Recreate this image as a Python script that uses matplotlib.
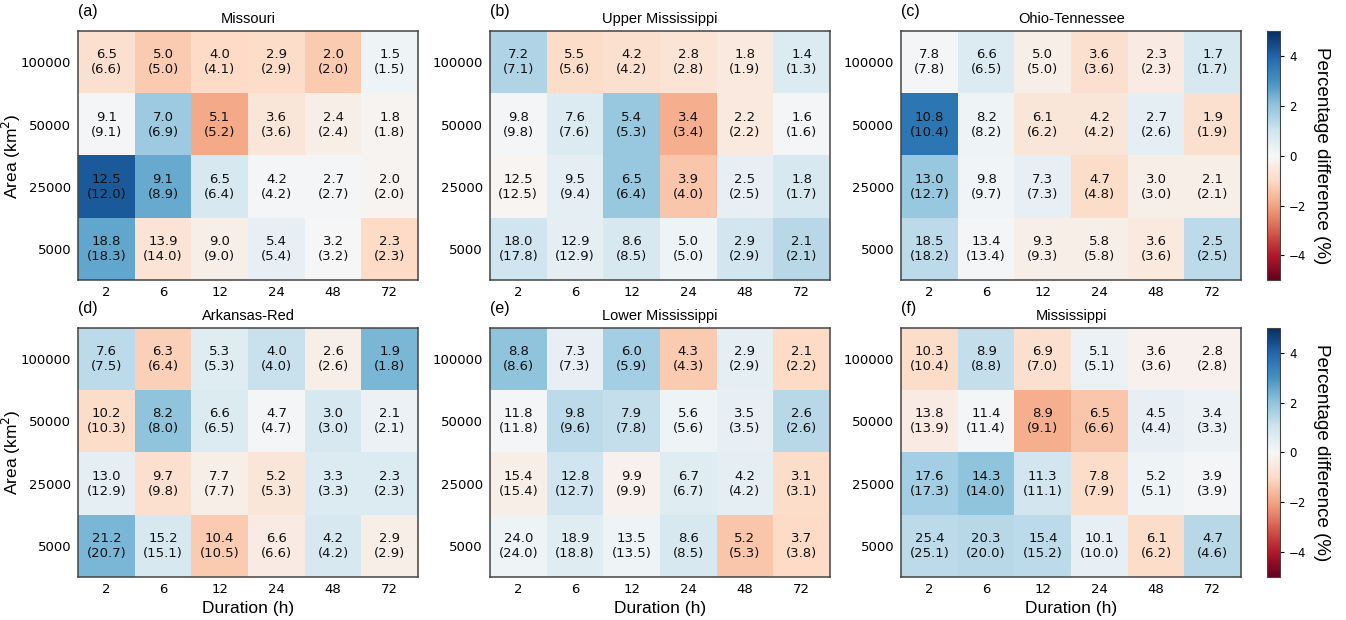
import numpy as np
import matplotlib.pyplot as plt

durations = ['2', '6', '12', '24', '48', '72']
areas = ['100000', '50000', '25000', '5000']
basins = ['Missouri', 'Upper Mississippi', 'Ohio-Tennessee',
          'Arkansas-Red', 'Lower Mississippi', 'Mississippi']
panel_tags = ['(a)', '(b)', '(c)', '(d)', '(e)', '(f)']

# first value in each cell
missouri_main = [[6.5, 5.0, 4.0, 2.9, 2.0, 1.5],
                 [9.1, 7.0, 5.1, 3.6, 2.4, 1.8],
                 [12.5, 9.1, 6.5, 4.2, 2.7, 2.0],
                 [18.8, 13.9, 9.0, 5.4, 3.2, 2.3]]
upper_main = [[7.2, 5.5, 4.2, 2.8, 1.8, 1.4],
              [9.8, 7.6, 5.4, 3.4, 2.2, 1.6],
              [12.5, 9.5, 6.5, 3.9, 2.5, 1.8],
              [18.0, 12.9, 8.6, 5.0, 2.9, 2.1]]
ohio_main = [[7.8, 6.6, 5.0, 3.6, 2.3, 1.7],
             [10.8, 8.2, 6.1, 4.2, 2.7, 1.9],
             [13.0, 9.8, 7.3, 4.7, 3.0, 2.1],
             [18.5, 13.4, 9.3, 5.8, 3.6, 2.5]]
arkansas_main = [[7.6, 6.3, 5.3, 4.0, 2.6, 1.9],
                 [10.2, 8.2, 6.6, 4.7, 3.0, 2.1],
                 [13.0, 9.7, 7.7, 5.2, 3.3, 2.3],
                 [21.2, 15.2, 10.4, 6.6, 4.2, 2.9]]
lower_main = [[8.8, 7.3, 6.0, 4.3, 2.9, 2.1],
              [11.8, 9.8, 7.9, 5.6, 3.5, 2.6],
              [15.4, 12.8, 9.9, 6.7, 4.2, 3.1],
              [24.0, 18.9, 13.5, 8.6, 5.2, 3.7]]
miss_main = [[10.3, 8.9, 6.9, 5.1, 3.6, 2.8],
             [13.8, 11.4, 8.9, 6.5, 4.5, 3.4],
             [17.6, 14.3, 11.3, 7.8, 5.2, 3.9],
             [25.4, 20.3, 15.4, 10.1, 6.1, 4.7]]

# value in brackets
missouri_ref = [[6.6, 5.0, 4.1, 2.9, 2.0, 1.5],
                [9.1, 6.9, 5.2, 3.6, 2.4, 1.8],
                [12.0, 8.9, 6.4, 4.2, 2.7, 2.0],
                [18.3, 14.0, 9.0, 5.4, 3.2, 2.3]]
upper_ref = [[7.1, 5.6, 4.2, 2.8, 1.9, 1.3],
             [9.8, 7.6, 5.3, 3.4, 2.2, 1.6],
             [12.5, 9.4, 6.4, 4.0, 2.5, 1.7],
             [17.8, 12.9, 8.5, 5.0, 2.9, 2.1]]
ohio_ref = [[7.8, 6.5, 5.0, 3.6, 2.3, 1.7],
            [10.4, 8.2, 6.2, 4.2, 2.6, 1.9],
            [12.7, 9.7, 7.3, 4.8, 3.0, 2.1],
            [18.2, 13.4, 9.3, 5.8, 3.6, 2.5]]
arkansas_ref = [[7.5, 6.4, 5.3, 4.0, 2.6, 1.8],
                [10.3, 8.0, 6.5, 4.7, 3.0, 2.1],
                [12.9, 9.8, 7.7, 5.3, 3.3, 2.3],
                [20.7, 15.1, 10.5, 6.6, 4.2, 2.9]]
lower_ref = [[8.6, 7.3, 5.9, 4.3, 2.9, 2.2],
             [11.8, 9.6, 7.8, 5.6, 3.5, 2.6],
             [15.4, 12.7, 9.9, 6.7, 4.2, 3.1],
             [24.0, 18.8, 13.5, 8.5, 5.3, 3.8]]
miss_ref = [[10.4, 8.8, 7.0, 5.1, 3.6, 2.8],
            [13.9, 11.4, 9.1, 6.6, 4.4, 3.3],
            [17.3, 14.0, 11.1, 7.9, 5.1, 3.9],
            [25.1, 20.0, 15.2, 10.0, 6.2, 4.6]]

# percentage difference (cell colour), estimated from the shading
missouri_pct = [[-0.8, -1.3, -1.0, -0.9, -1.3, 0.2],
                [0.05, 1.8, -1.9, -0.6, -0.3, -0.15],
                [4.2, 2.5, 0.8, 0.05, 0.05, -0.15],
                [2.6, -0.7, -0.3, 0.4, 0.0, -1.0]]
upper_pct = [[1.5, -0.9, -0.8, -0.7, -0.5, 0.7],
             [0.05, 0.7, 1.9, -1.8, -0.5, 0.1],
             [-0.1, 0.5, 1.9, -1.4, 0.4, 0.8],
             [1.0, 0.5, 0.8, 0.2, 0.9, 1.4]]
ohio_pct = [[0.1, 0.7, -0.3, -0.8, -0.4, 0.8],
            [3.6, 0.2, -0.6, -0.6, 0.5, -0.8],
            [1.9, 0.15, 0.4, -0.9, -0.3, -0.3],
            [1.3, 0.1, -0.3, -0.3, -0.5, 1.3]]
arkansas_pct = [[1.3, -1.2, 0.6, 1.1, -0.3, 2.3],
                [-0.9, 2.0, 0.7, 0.05, 0.8, 0.3],
                [0.5, -0.8, -0.3, -0.6, 0.7, 0.7],
                [2.3, 0.8, -1.3, -0.4, 0.8, -0.3]]
lower_pct = [[2.0, 0.4, 1.7, -1.3, 0.5, -1.0],
             [0.05, 1.3, 1.2, 0.2, 0.4, 1.4],
             [-0.3, 1.0, -0.2, 0.6, 0.5, -0.9],
             [0.2, 0.6, 0.2, 0.8, -1.4, -1.0]]
miss_pct = [[-0.9, 1.2, -0.8, 0.3, -0.2, -0.2],
            [-0.4, 0.05, -1.8, -1.4, 0.4, 0.3],
            [1.7, 2.0, 0.9, -0.9, 0.2, 0.1],
            [1.3, 1.4, 1.3, 0.4, -0.9, 1.4]]

mains = [missouri_main, upper_main, ohio_main, arkansas_main, lower_main, miss_main]
refs = [missouri_ref, upper_ref, ohio_ref, arkansas_ref, lower_ref, miss_ref]
pcts = [missouri_pct, upper_pct, ohio_pct, arkansas_pct, lower_pct, miss_pct]

fig = plt.figure(figsize=(13.46, 6.2), dpi=100)

lefts = [0.058, 0.364, 0.6695]
bottoms = [0.548, 0.0694]
w, h = 0.2526, 0.4016

for k in range(6):
    r, c = divmod(k, 3)
    ax = fig.add_axes([lefts[c], bottoms[r], w, h])
    pct = np.array(pcts[k])
    im = ax.imshow(pct, cmap='RdBu', vmin=-5, vmax=5, aspect='auto')
    for i in range(len(areas)):
        for j in range(len(durations)):
            ax.text(j, i, f'{mains[k][i][j]:.1f}\n({refs[k][i][j]:.1f})',
                    ha='center', va='center', fontsize=9.5, color='#111111',
                    linespacing=1.2)
    ax.set_xticks(range(len(durations)))
    ax.set_xticklabels(durations)
    ax.set_yticks(range(len(areas)))
    ax.set_yticklabels(areas)
    ax.tick_params(length=0, labelsize=9.5)
    ax.tick_params(axis='x', pad=4)
    ax.tick_params(axis='y', pad=5)
    for s in ax.spines.values():
        s.set_color('#444444')
        s.set_linewidth(1.1)
    ax.set_title(basins[k], fontsize=10.5, family='Liberation Sans', pad=6)
    ax.text(0.0, 1.05, panel_tags[k], transform=ax.transAxes, fontsize=11.5,
            family='Liberation Sans', ha='left', va='bottom')
    if c == 0:
        ax.set_ylabel('Area (km$^2$)', fontsize=12.5, family='Liberation Sans')
        ax.yaxis.set_label_coords(-0.162, 0.5)
    if r == 1:
        ax.set_xlabel('Duration (h)', fontsize=12.5, family='Liberation Sans')

    if c == 2:
        cax = fig.add_axes([0.9413, bottoms[r], 0.0097, h])
        cb = fig.colorbar(im, cax=cax, ticks=[-4, -2, 0, 2, 4])
        cb.ax.tick_params(labelsize=8.5, length=3)
        cb.outline.set_color('#444444')
        cb.set_label('Percentage difference (%)', rotation=270, labelpad=17,
                     fontsize=13.5, family='Liberation Sans')

plt.savefig('out.png', dpi=100)
